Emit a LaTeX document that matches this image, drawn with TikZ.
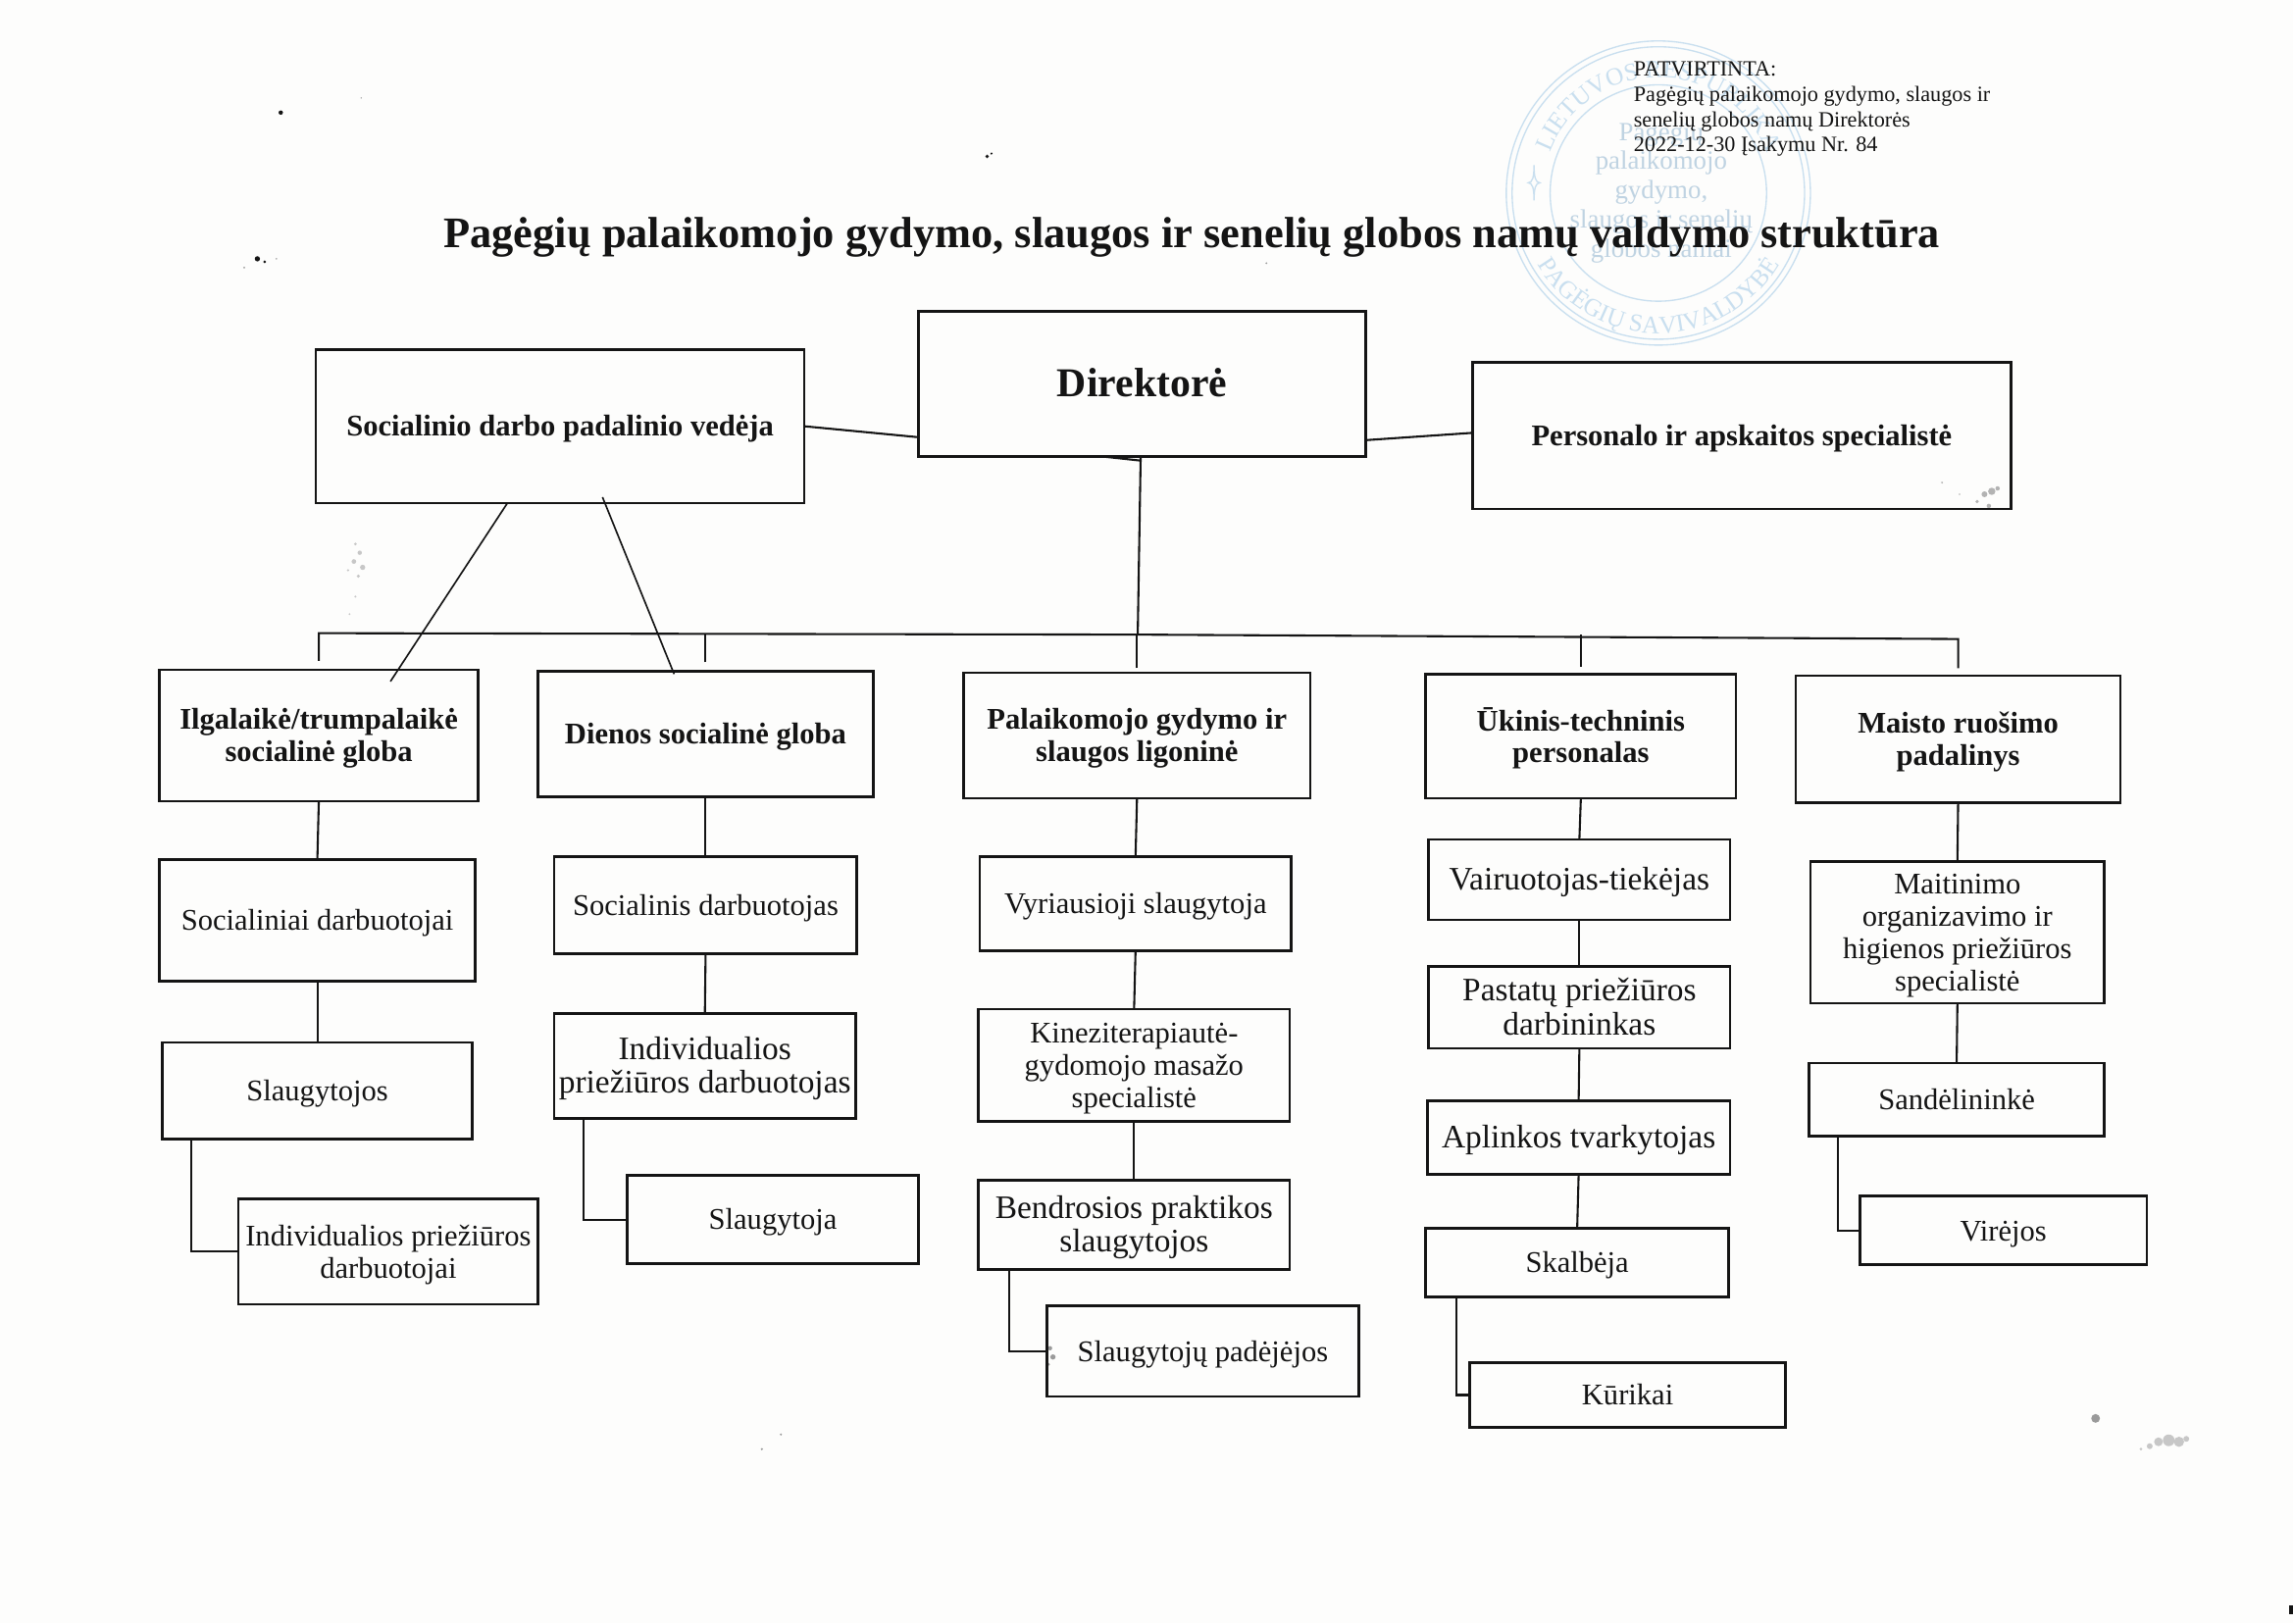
\documentclass[tikz,border=0pt]{standalone}
\usepackage{fontspec}
\setmainfont{Liberation Serif}
\usetikzlibrary{decorations.text,calc}
\definecolor{stampc}{HTML}{C9DFEF}
\definecolor{stampt}{HTML}{BFD3E2}
\definecolor{ink}{HTML}{141414}
\definecolor{speck}{HTML}{9A9A9A}
\definecolor{paper}{HTML}{FDFDFC}
\tikzset{
  boxn/.style={draw=ink,line width=1.8pt,inner sep=0pt,outer sep=0pt,align=center,text=ink},
  link/.style={draw=ink,line width=1.4pt},
  thin link/.style={draw=ink,line width=1.1pt},
  head/.style={font=\fontsize{20.5}{22}\selectfont\bfseries},
  body/.style={font=\fontsize{20.5}{22}\selectfont},
  bodyl/.style={font=\fontsize{22.4}{23}\selectfont},
  stamptext/.style={text=stampt,align=center,font=\fontsize{18}{20}\selectfont},
  stampring/.style={draw=stampc,line width=0.9pt}
}
\newcommand{\bx}[7]{\node[boxn,#6,minimum width={(#4-#2)*1pt},minimum height={(#5-#3)*1pt}] (#1) at ({(#2+#4)/2},{(#3+#5)/2}) {\raisebox{-2.5pt}[\height][\depth]{\begin{tabular}{@{}c@{}}#7\end{tabular}}};}
\begin{document}
\begin{tikzpicture}[x=1pt,y=-1pt]
\useasboundingbox (0,0) rectangle (1568,1110);
\fill[paper] (0,0) rectangle (1568,1110);
% stamp
\begin{scope}[shift={(1134,132)},y=1pt]
\draw[stampring] (0,0) circle (104);
\draw[stampring] (0,0) circle (100);
\draw[stampring] (0,0) circle (74);
\path[decorate,decoration={text along path,text={|\fontsize{17}{17}\selectfont\color{stampc}|LIETUVOS RESPUBLIKA},text align=center}] (178:79) arc (178:2:79);
\path[decorate,decoration={text along path,text={|\fontsize{17}{17}\selectfont\color{stampc}|PAGĖGIŲ SAVIVALDYBĖ},text align=center}] (205:96) arc (205:335:96);
\draw[stampring] (-89,7) .. controls (-86,7) and (-85,3) .. (-85,-5) .. controls (-85,3) and (-84,7) .. (-81,7) .. controls (-84,7) and (-85,11) .. (-85,19) .. controls (-85,11) and (-86,7) .. (-89,7) -- cycle;
\end{scope}
\node[stamptext] (stampname) at (1136,132) {Pagėgių\\palaikomojo\\gydymo,\\slaugos ir senelių\\globos namai};
% specks
\fill[ink] (192,77) circle (1.5);
\fill[speck] (247,67) circle (.5);
\fill[ink] (675,107) circle (1.3);
\fill[ink] (678,105) circle (.8);
\fill[ink] (176,177) circle (1.8);
\fill[ink] (181,179) circle (1);
\fill[speck] (167,183) circle (.7);
\fill[speck] (189,177) circle (.6);
\fill[speck] (866,180) circle (.7);
\fill[speck] (1433,970) circle (3);
\foreach \sx/\sy/\sr in {1470/989/2,1476/986/3,1483/985/4,1490/986/3.5,1495/984/2,1464/991/1}{\fill[speck!55] (\sx,\sy) circle (\sr);}
\foreach \sx/\sy/\sr in {1352/343/1.2,1357/338/2,1362/336/2.5,1366/334/1.5,1360/346/1.5,1328/330/.7,1340/338/.6}{\fill[speck!75] (\sx,\sy) circle (\sr);}
\foreach \sx/\sy/\sr in {243/372/1,246/378/1.5,242/384/1.6,248/388/1.8,245/394/1.2,238/390/.8,243/408/.8,239/420/.7}{\fill[speck!55] (\sx,\sy) circle (\sr);}
\foreach \sx/\sy/\sr in {718/922/1.5,720/928/1.8,717/933/1}{\fill[speck] (\sx,\sy) circle (\sr);}
\fill[speck] (534,981) circle (.8);
\fill[speck] (521,991) circle (.8);
\fill[ink] (1565,1098) rectangle (1568,1104);
% title and note
\node[font=\fontsize{29.8}{34}\selectfont\bfseries,text=ink,inner sep=0pt] (title) at (815,162) {Pagėgių palaikomojo gydymo, slaugos ir senelių globos namų valdymo struktūra};
\node[font=\fontsize{14.9}{17.3}\selectfont,text=ink,inner sep=0pt,align=left,anchor=north west] (note) at (1117,42) {PATVIRTINTA:\\Pagėgių palaikomojo gydymo, slaugos ir\\senelių globos namų Direktorės\\2022-12-30 Įsakymu Nr. 84};
% boxes
\bx{dir}{628}{213}{934}{312}{font=\fontsize{28}{30}\selectfont\bfseries}{\raisebox{-0.5pt}[0pt][0pt]{Direktorė}}
\bx{soc}{216}{239}{550}{344}{head}{Socialinio darbo padalinio vedėja}
\bx{per}{1007}{248}{1375}{348}{head}{Personalo ir apskaitos specialistė}
\bx{ilg}{109}{458}{327}{548}{head}{Ilgalaikė/trumpalaikė\\socialinė globa}
\bx{die}{368}{459}{597}{545}{head}{Dienos socialinė globa}
\bx{pal}{659}{460}{896}{546}{head}{Palaikomojo gydymo ir\\slaugos ligoninė}
\bx{uki}{975}{461}{1187}{546}{head}{Ūkinis-techninis\\personalas}
\bx{mai}{1228}{462}{1450}{549}{head}{Maisto ruošimo\\padalinys}
\bx{a1}{109}{588}{325}{671}{body}{Socialiniai darbuotojai}
\bx{a2}{111}{713}{323}{779}{body}{Slaugytojos}
\bx{a3}{163}{820}{368}{892}{body}{Individualios priežiūros\\darbuotojai}
\bx{b1}{379}{586}{586}{652}{body}{Socialinis darbuotojas}
\bx{b2}{379}{693}{585}{765}{bodyl}{Individualios\\priežiūros darbuotojas}
\bx{b3}{429}{804}{628}{864}{body}{Slaugytoja}
\bx{c1}{670}{586}{883}{650}{body}{Vyriausioji slaugytoja}
\bx{c2}{669}{690}{882}{767}{body}{Kineziterapiautė-\\gydomojo masažo\\specialistė}
\bx{c3}{669}{807}{882}{868}{bodyl}{Bendrosios praktikos\\slaugytojos}
\bx{c4}{716}{893}{929}{955}{body}{Slaugytojų padėjėjos}
\bx{d1}{977}{574}{1183}{629}{bodyl}{Vairuotojas-tiekėjas}
\bx{d2}{977}{661}{1183}{717}{bodyl}{Pastatų priežiūros\\darbininkas}
\bx{d3}{976}{753}{1183}{803}{bodyl}{Aplinkos tvarkytojas}
\bx{d4}{975}{840}{1182}{887}{body}{Skalbėja}
\bx{d5}{1005}{932}{1221}{976}{body}{Kūrikai}
\bx{e1}{1238}{589}{1439}{686}{body}{Maitinimo\\organizavimo ir\\higienos priežiūros\\specialistė}
\bx{e2}{1237}{727}{1439}{777}{body}{Sandėlininkė}
\bx{e3}{1272}{818}{1468}{865}{body}{Virėjos}
% bus
\coordinate (busL) at (218,433);
\coordinate (busR) at (1339,437);
\coordinate (busC) at (778,434);
\coordinate (slantA) at (267,466);
\coordinate (slantB) at (461,461);
\draw[link] ([yshift=6pt]ilg.north) -- (busL) -- (busC) -- (busR) -- ([yshift=5pt]mai.north);
\draw[link] ([yshift=6pt]die.north) -- (die.north |- busL);
\draw[link] ([yshift=3pt]pal.north) -- (pal.north |- busC);
\draw[link] ([yshift=5pt]uki.north) -- (uki.north |- busC);
\draw[link] ([xshift=-1pt]dir.south) -- (busC);
\draw[link] ([xshift=-29pt]dir.south) -- ([xshift=-1pt,yshift=-3pt]dir.south);
\draw[link] (soc.east) -- ([yshift=13pt]dir.south west);
\draw[link] ([yshift=11pt]dir.south east) -- ([yshift=2pt]per.west);
\draw[thin link] ([xshift=-36pt]soc.south) -- (slantA);
\draw[thin link] ([xshift=29pt,yshift=4pt]soc.south) -- (slantB);
% verticals
\draw[link] (ilg.south) -- (a1.north);
\draw[link] (a1.south) -- (a2.north);
\draw[link] ([xshift=20pt]a2.south west) |- (a3.west);
\draw[link] (die.south) -- (b1.north);
\draw[link] (b1.south) -- (b2.north);
\draw[link] ([xshift=20pt]b2.south west) |- (b3.west);
\draw[link] (pal.south) -- (c1.north);
\draw[link] (c1.south) -- (c2.north);
\draw[link] (c2.south) -- (c3.north);
\draw[link] ([xshift=21pt]c3.south west) |- (c4.west);
\draw[link] (uki.south) -- (d1.north);
\draw[link] (d1.south) -- (d2.north);
\draw[link] (d2.south) -- (d3.north);
\draw[link] (d3.south) -- (d4.north);
\draw[link] ([xshift=21pt]d4.south west) |- (d5.west);
\draw[link] (mai.south) -- (e1.north);
\draw[link] (e1.south) -- (e2.north);
\draw[link] ([xshift=20pt]e2.south west) |- (e3.west);
\end{tikzpicture}
\end{document}
